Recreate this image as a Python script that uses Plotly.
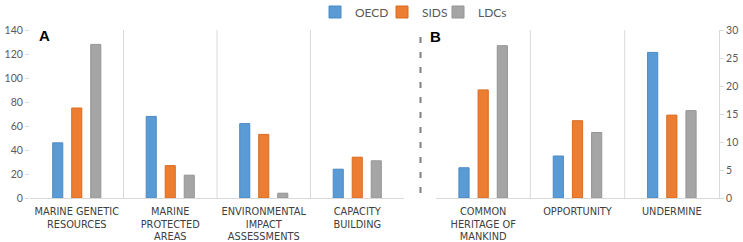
import plotly.graph_objects as go

# ---- data ----
cats_a = ["MARINE GENETIC<br>RESOURCES", "MARINE<br>PROTECTED<br>AREAS",
          "ENVIRONMENTAL<br>IMPACT<br>ASSESSMENTS", "CAPACITY<br>BUILDING"]
oecd_a = [46, 68, 62, 24]
sids_a = [75, 27, 53, 34]
ldcs_a = [128, 19, 4, 31]

cats_b = ["COMMON<br>HERITAGE OF<br>MANKIND", "OPPORTUNITY", "UNDERMINE"]
oecd_b = [5.4, 7.5, 26]
sids_b = [19.3, 13.8, 14.8]
ldcs_b = [27.2, 11.7, 15.6]

ticks_a = [0, 20, 40, 60, 80, 100, 120, 140]
ticks_b = [0, 5, 10, 15, 20, 25, 30]

series = ["OECD", "SIDS", "LDCs"]
legends = ["legend", "legend2", "legend3"]
colors = ["#5b9bd5", "#ed7d31", "#a5a5a5"]
edges = ["#4a8ac4", "#d86c22", "#949494"]

W, H = 743, 242
fig = go.Figure()

for name, lg, vals_a, vals_b, c, e in zip(series, legends, [oecd_a, sids_a, ldcs_a],
                                          [oecd_b, sids_b, ldcs_b], colors, edges):
    fig.add_trace(go.Bar(x=cats_a, y=vals_a, name=name, marker_color=c,
                         marker_line=dict(color=e, width=1), legend=lg,
                         xaxis="x", yaxis="y", legendgroup=name, showlegend=True))
    fig.add_trace(go.Bar(x=cats_b, y=vals_b, name=name, marker_color=c,
                         marker_line=dict(color=e, width=1),
                         xaxis="x2", yaxis="y2", legendgroup=name, showlegend=False))

tickfont = dict(family="Lato", size=10.5, color="#595959")
catfont = dict(family="DejaVu Sans", size=9.8, color="#404040")
legfont = dict(family="Lato", size=12, color="#595959")
ytop = 1 - 30 / H
ybot = 1 - 198 / H


def leg(xpx):
    return dict(orientation="h", x=xpx / W, xanchor="left", y=1 - 12 / H, yanchor="middle",
                font=legfont, itemwidth=30, bgcolor="rgba(0,0,0,0)", borderwidth=0)


fig.update_layout(
    width=W, height=H,
    margin=dict(l=0, r=0, t=0, b=0, autoexpand=False),
    paper_bgcolor="white", plot_bgcolor="white",
    barmode="group", bargap=0.39, bargroupgap=0.47,
    showlegend=True,
    legend=leg(315), legend2=leg(382), legend3=leg(438),
    xaxis=dict(domain=[30 / W, 404 / W], anchor="y", showgrid=False, zeroline=False,
               showline=True, linecolor="#d9d9d9", linewidth=1, ticks="",
               tickfont=catfont, tickangle=0, automargin=False, ticklabelstandoff=4),
    yaxis=dict(domain=[ybot, ytop], anchor="x", range=[0, 140], tickvals=ticks_a,
               showgrid=False, zeroline=False, showline=False, ticks="outside",
               ticklen=4, tickcolor="#d9d9d9", tickfont=tickfont, automargin=False),
    xaxis2=dict(domain=[436 / W, 719 / W], anchor="y2", showgrid=False, zeroline=False,
                showline=True, linecolor="#d9d9d9", linewidth=1, ticks="",
                tickfont=catfont, tickangle=0, automargin=False, ticklabelstandoff=4),
    yaxis2=dict(domain=[ybot, ytop], anchor="x2", side="right", range=[0, 30],
                tickvals=ticks_b, showgrid=False, zeroline=False, showline=True,
                linecolor="#d9d9d9", ticks="outside", ticklen=4, tickcolor="#d9d9d9",
                tickfont=tickfont, automargin=False),
)

# category separators
for xv in [0.5, 1.5, 2.5]:
    fig.add_shape(type="line", xref="x", yref="paper", x0=xv, x1=xv, y0=ybot, y1=ytop,
                  line=dict(color="#d9d9d9", width=1))
for xv in [0.5, 1.5]:
    fig.add_shape(type="line", xref="x2", yref="paper", x0=xv, x1=xv, y0=ybot, y1=ytop,
                  line=dict(color="#d9d9d9", width=1))

# dashed divider between panels
fig.add_shape(type="line", xref="paper", yref="paper", x0=420.5 / W, x1=420.5 / W,
              y0=1 - 193 / H, y1=1 - 35 / H,
              line=dict(color="#808080", width=2, dash="6px,9px"))

# panel letters
fig.add_annotation(text="<b>A</b>", xref="paper", yref="paper", x=37 / W, y=1 - 35.5 / H,
                   xanchor="left", yanchor="middle", showarrow=False,
                   font=dict(family="Liberation Sans", size=15, color="black"))
fig.add_annotation(text="<b>B</b>", xref="paper", yref="paper", x=428 / W, y=1 - 36.5 / H,
                   xanchor="left", yanchor="middle", showarrow=False,
                   font=dict(family="Liberation Sans", size=15, color="black"))

fig.write_html("out.html", config={"displayModeBar": False},
               post_script="document.body.style.margin='0';document.body.style.overflow='hidden';")
